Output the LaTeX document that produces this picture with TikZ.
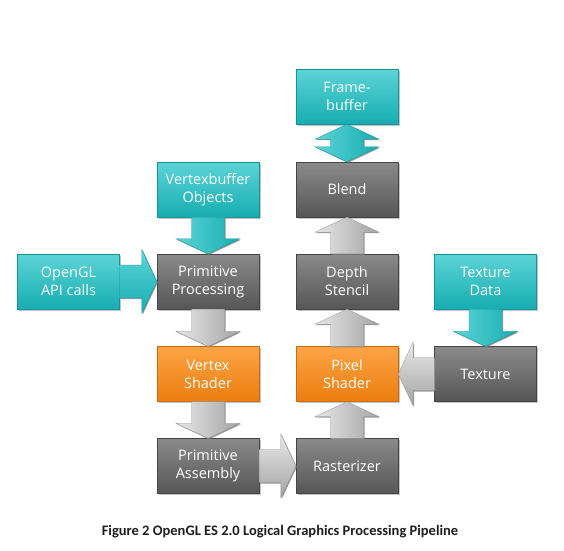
\documentclass[tikz,border=0pt]{standalone}
\usepackage{fontspec}
\setmainfont{Open Sans}
\newfontfamily\capfont{Carlito}
\usetikzlibrary{calc,shadows}
\definecolor{tealtop}{HTML}{5CD4D7}
\definecolor{tealbot}{HTML}{17ADB1}
\definecolor{graytop}{HTML}{8A8A8A}
\definecolor{graybot}{HTML}{565656}
\definecolor{orgtop}{HTML}{FCA445}
\definecolor{orgbot}{HTML}{EC7E10}
\definecolor{arrlight}{HTML}{E8E8E8}
\definecolor{arrdark}{HTML}{A3A3A3}
\definecolor{capcol}{HTML}{1E1E1E}
\tikzset{
  box/.style={minimum width=102pt, minimum height=55pt, inner sep=0pt,
    text=white, align=center, font=\fontsize{14.5}{18}\selectfont,
    line width=0.4pt,
    drop shadow={shadow xshift=1.5pt, shadow yshift=-1.5pt, opacity=0.45}},
  tealbox/.style={box, top color=tealtop, bottom color=tealbot, draw=tealbot!85!black},
  graybox/.style={box, top color=graytop, bottom color=graybot, draw=graybot!80!black},
  orgbox/.style={box, top color=orgtop, bottom color=orgbot, draw=orgbot!85!black},
  arrbase/.style={line width=0.3pt,
    drop shadow={shadow xshift=1pt, shadow yshift=-1pt, opacity=0.8}},
  grayv/.style={arrbase, left color=arrlight, right color=arrdark, draw=arrdark!90!black},
  grayh/.style={arrbase, top color=arrlight, bottom color=arrdark, draw=arrdark!90!black},
  tealv/.style={arrbase, left color=tealtop, right color=tealbot, draw=tealbot!85!black},
  tealh/.style={arrbase, top color=tealtop, bottom color=tealbot, draw=tealbot!85!black},
}
\newcommand\blockarrow[3][]{%
  \path[#1] let \p1=(#2), \p2=(#3), \n1={atan2(\y2-\y1,\x2-\x1)} in
    ($(\p1)+(\n1+90:16.5pt)$) -- ($(\p2)+(\n1:-15pt)+(\n1+90:16.5pt)$)
    -- ($(\p2)+(\n1:-15pt)+(\n1+90:32pt)$) -- (\p2)
    -- ($(\p2)+(\n1:-15pt)+(\n1-90:32pt)$) -- ($(\p2)+(\n1:-15pt)+(\n1-90:16.5pt)$)
    -- ($(\p1)+(\n1-90:16.5pt)$) -- cycle;}
\newcommand\dblarrow[3][]{%
  \path[#1] let \p1=(#2), \p2=(#3), \n1={atan2(\y2-\y1,\x2-\x1)} in
    (\p1) -- ($(\p1)+(\n1:15pt)+(\n1+90:32pt)$) -- ($(\p1)+(\n1:15pt)+(\n1+90:16.5pt)$)
    -- ($(\p2)+(\n1:-15pt)+(\n1+90:16.5pt)$) -- ($(\p2)+(\n1:-15pt)+(\n1+90:32pt)$)
    -- (\p2) -- ($(\p2)+(\n1:-15pt)+(\n1-90:32pt)$) -- ($(\p2)+(\n1:-15pt)+(\n1-90:16.5pt)$)
    -- ($(\p1)+(\n1:15pt)+(\n1-90:16.5pt)$) -- ($(\p1)+(\n1:15pt)+(\n1-90:32pt)$) -- cycle;}
\begin{document}
\begin{tikzpicture}[x=1pt,y=-1pt]
\useasboundingbox[fill=white] (0,0) rectangle (564,550);
% boxes
\node[tealbox] (fb) at (347,96.5) {Frame-\\buffer};
\node[graybox] (bl) at (347,189.5) {Blend};
\node[tealbox] (vb) at (208,189.5) {Vertexbuffer\\Objects};
\node[tealbox] (og) at (68.5,281.5) {OpenGL\\API calls};
\node[graybox] (pp) at (208,281.5) {Primitive\\Processing};
\node[graybox] (ds) at (347,281.5) {Depth\\Stencil};
\node[tealbox] (td) at (485.5,281.5) {Texture\\Data};
\node[orgbox] (vs) at (208,374) {Vertex\\Shader};
\node[orgbox] (ps) at (347,374) {Pixel\\Shader};
\node[graybox] (tx) at (485.5,374) {Texture};
\node[graybox] (pa) at (208,466) {Primitive\\Assembly};
\node[graybox] (ra) at (347,466) {Rasterizer};
% arrows
\dblarrow[tealv]{fb.south}{bl.north}
\blockarrow[grayv]{ds.north}{bl.south}
\blockarrow[tealv]{vb.south}{pp.north}
\blockarrow[tealh]{og.east}{pp.west}
\blockarrow[grayv]{pp.south}{vs.north}
\blockarrow[tealv]{td.south}{tx.north}
\blockarrow[grayv]{ps.north}{ds.south}
\blockarrow[grayh]{tx.west}{ps.east}
\blockarrow[grayv]{vs.south}{pa.north}
\blockarrow[grayv]{ra.north}{ps.south}
\blockarrow[grayh]{pa.east}{ra.west}
% caption
\node[font=\capfont\bfseries\fontsize{14.5}{17}\selectfont, text=capcol] (cap) at (280,532)
  {Figure 2 OpenGL ES 2.0 Logical Graphics Processing Pipeline};
\end{tikzpicture}
\end{document}
